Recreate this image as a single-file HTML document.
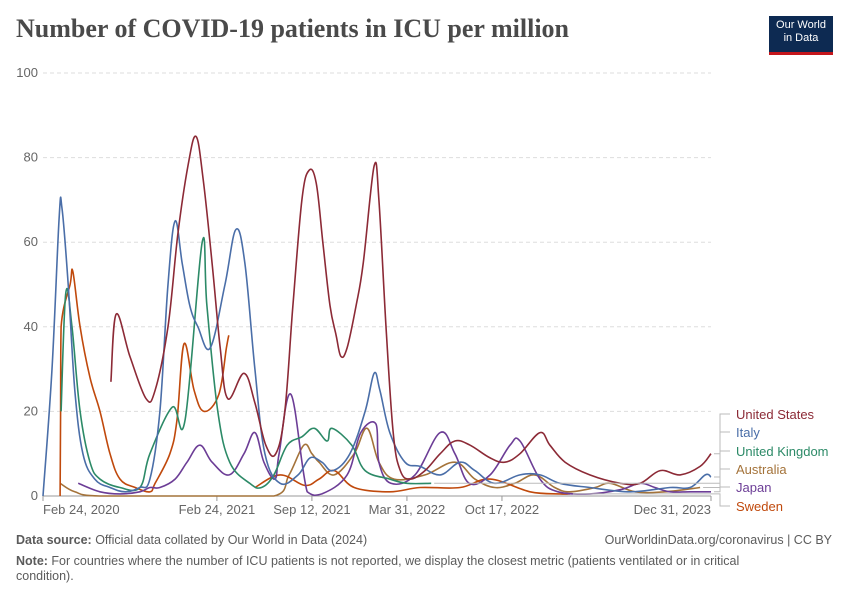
<!DOCTYPE html>
<html><head><meta charset="utf-8"><style>
body{margin:0;background:#fff;width:850px;height:600px;overflow:hidden;font-family:"Liberation Sans",sans-serif}
.title{position:absolute;left:16px;top:14px;font-family:"Liberation Serif",serif;font-weight:bold;font-size:26px;color:#4a4a4a}
.logo{position:absolute;left:769px;top:16px;width:64px;height:33px;background:#0d2a52;border-bottom:3px solid #c4161c;color:#fff;font-size:11px;text-align:center;line-height:13px;padding-top:3px;box-sizing:content-box}
.foot{position:absolute;left:16px;font-size:12.5px;color:#5b5b5b}
</style></head><body>
<div class="title">Number of COVID-19 patients in ICU per million</div>
<div class="logo">Our World<br>in Data</div>
<svg id="chart" width="850" height="600" style="position:absolute;left:0;top:0"></svg>
<div class="foot" style="top:533px"><b>Data source:</b> Official data collated by Our World in Data (2024)</div>
<div class="foot" style="top:533px;left:auto;right:18px">OurWorldinData.org/coronavirus | CC BY</div>
<div class="foot" style="top:554px;width:760px;line-height:15px"><b>Note:</b> For countries where the number of ICU patients is not reported, we display the closest metric (patients ventilated or in critical condition).</div>
<script>
const yTicks=[0,20,40,60,80,100];
const xTickDays=[0,366,566,766,966,1406];
const xTickLabels=["Feb 24, 2020","Feb 24, 2021","Sep 12, 2021","Mar 31, 2022","Oct 17, 2022","Dec 31, 2023"];
const seriesNames=["United States","Italy","United Kingdom","Australia","Japan","Sweden"];
const colors=["#8c2a36","#4a6ea8","#2c8a67","#a4733a","#6c3d96","#c0490c"];
const usX=[143,154,183,217,236,263,284,305,322,337,356,373,389,423,446,469,490,509,526,545,560,575,589,604,617,627,640,659,674,697,707,722,737,752,773,804,836,867,899,941,972,1004,1046,1067,1099,1151,1215,1257,1299,1341,1383,1406];
const usY=[27,43,33,23,25,40,62,78,85,75,55,35,23,29,22,12,10,20,45,70,77,74,60,45,38,33,35,45,55,78,70,40,15,6,4,6,10,13,12,9,8,10,15,12,8,5,3,3,6,5,7,10];
const itX=[0,19,34,40,53,67,84,109,141,173,204,225,246,263,278,293,309,326,352,383,406,425,446,467,499,537,562,587,610,646,678,697,709,730,762,794,836,878,909,951,1004,1046,1088,1151,1236,1320,1362,1394,1406];
const itY=[0,30,66,68,50,25,10,4,2,1,2,4,20,50,65,55,45,40,35,50,63,55,30,10,3,5,9,8,6,10,20,29,25,15,8,7,5,8,6,3,5,5,3,2,1,2,2,5,4.5];
const ukX=[38,48,61,78,99,120,162,204,225,272,299,335,345,368,393,435,460,486,514,545,571,598,608,650,678,730,766,817];
const ukY=[20,48,40,20,8,4,2,2,10,21,18,60,45,20,8,3,2,5,12,14,16,13,16,12,6,4,3,3];
const auX=[36,67,120,330,486,518,549,566,581,613,655,682,707,739,804,867,909,951,993,1035,1077,1109,1162,1194,1246,1309,1383];
const auY=[3,1,0,0,0,5,12,10,8,5,10,16,8,4,5,8,4,2,3,5,2,1,2,3,1,1,2];
const jpX=[74,120,162,204,225,246,278,303,330,356,392,423,446,465,488,497,522,556,587,640,669,701,707,732,783,836,867,897,941,983,1004,1046,1084,1151,1215,1257,1288,1320,1362,1406];
const jpY=[3,1,0.5,1,2,2,4,8,12,8,5,10,15,8,4,10,24,1,0.5,5,15,17,8,3,5,15,10,3,5,12,13,4,1,0.5,1.5,3,2,1,1,1];
const swX=[36,37,38,57,63,78,99,120,141,162,194,225,236,267,282,297,318,339,370,386,391,446,499,551,581,613,655,730,794,878,941,1025,1088,1109];
const swY=[0,20,40,50,53,40,28,20,10,4,2,1,3,10,18,36,25,20,24,35,38,2,5,2.5,4,6,2,1,2,2,4,1,0.5,0.5];
const svg=document.getElementById('chart');
const NS="http://www.w3.org/2000/svg";
const X0=43,X1=711,Y0=496,Y1=73,DMAX=1406;
function xs(d){return X0+(X1-X0)*d/DMAX}
function ys(v){return Y0-(Y0-Y1)*v/100}
function mk(t,a){const e=document.createElementNS(NS,t);for(const k in a)e.setAttribute(k,a[k]);svg.appendChild(e);return e}
function smooth(pts){
 if(pts.length<2)return '';
 let d='M'+pts[0][0].toFixed(1)+','+pts[0][1].toFixed(1);
 for(let i=0;i<pts.length-1;i++){
  const p0=pts[i-1]||pts[i],p1=pts[i],p2=pts[i+1],p3=pts[i+2]||p2;
  const t=0.18;
  let c1x=p1[0]+(p2[0]-p0[0])*t,c1y=p1[1]+(p2[1]-p0[1])*t;
  let c2x=p2[0]-(p3[0]-p1[0])*t,c2y=p2[1]-(p3[1]-p1[1])*t;
  c1x=Math.min(Math.max(c1x,p1[0]),p2[0]);c2x=Math.min(Math.max(c2x,p1[0]),p2[0]);
  c1y=Math.min(c1y,Y0);c2y=Math.min(c2y,Y0);
  d+=`C${c1x.toFixed(1)},${c1y.toFixed(1)} ${c2x.toFixed(1)},${c2y.toFixed(1)} ${p2[0].toFixed(1)},${p2[1].toFixed(1)}`;
 }
 return d;
}
yTicks.forEach(t=>{
 const l=mk('line',{x1:X0,x2:X1,y1:ys(t),y2:ys(t),stroke:t===0?'#999':'#ddd','stroke-dasharray':t===0?'':'4,3'});
 
 
 const tx=mk('text',{x:38,y:ys(t)+4,'text-anchor':'end','font-size':13,fill:'#666','font-family':'Liberation Sans'});
 tx.textContent=t;
 
 
});
xTickDays.forEach((d,i)=>{
 const x=xs(d);
 const tk=mk('line',{x1:x,x2:x,y1:Y0,y2:Y0+5,stroke:'#999'});
 
 
 const anchor=i===0?'start':(i===xTickDays.length-1?'end':'middle');
 const tx=mk('text',{x:x,y:514,'text-anchor':anchor,'font-size':13,fill:'#666','font-family':'Liberation Sans'});
 tx.textContent=xTickLabels[i];
 
 
});
const allX=[usX,itX,ukX,auX,jpX,swX],allY=[usY,itY,ukY,auY,jpY,swY];
[3,5,4,2,1,0].forEach(i=>{
 const xa=allX[i],ya=allY[i];
 const segs=[[]];
 xa.forEach((dd,j)=>{
  if(i===5&&dd===446)segs.push([]);
  segs[segs.length-1].push([xs(dd),ys(ya[j])]);
 });
 const d=segs.map(smooth).join('');
 const p=mk('path',{d:d,fill:'none',stroke:colors[i],'stroke-width':1.6,'stroke-linejoin':'round'});
 
 
});
const labelY=[418,436,455,473,491,510];
seriesNames.forEach((n,i)=>{
 const xa=allX[i],ya=allY[i];
 const ey=ys(ya[ya.length-1]), ex=xs(xa[xa.length-1]);
 const c=mk('path',{d:`M${ex+3},${ey}H720V${labelY[i]-4}H730`,fill:'none',stroke:'#bbb','stroke-width':1});
 
 
 const t=mk('text',{x:736,y:labelY[i]+1,'font-size':13,fill:colors[i],'font-family':'Liberation Sans'});
 t.textContent=n;
 
 
});
</script>
</body></html>
